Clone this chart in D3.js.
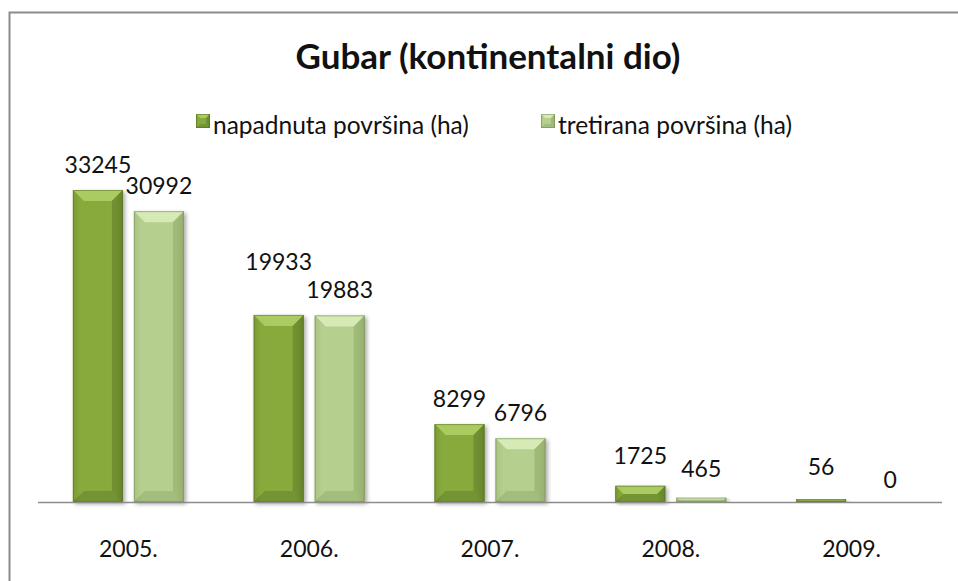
<!DOCTYPE html>
<html>
<head>
<meta charset="utf-8">
<script src="https://cdn.jsdelivr.net/npm/d3@7"></script>
<style>
  body { margin: 0; background: #fff; }
  text { font-family: Lato, "Open Sans", sans-serif; fill: #111; }
</style>
</head>
<body>
<div class="chart"></div>
<script>
var years = ["2005.", "2006.", "2007.", "2008.", "2009."];
var seriesNames = ["napadnuta površina (ha)", "tretirana površina (ha)"];
var napadnuta = [33245, 19933, 8299, 1725, 56];
var tretirana = [30992, 19883, 6796, 465, 0];

var width = 958, height = 581;

var svg = d3.select(".chart").append("svg")
    .attr("width", width)
    .attr("height", height);

// outer frame (only left and top visible)
svg.append("path")
    .attr("d", "M9.5," + height + "V12.5H" + width)
    .attr("fill", "none")
    .attr("stroke", "#8c8c8c")
    .attr("stroke-width", 2);

var x = d3.scaleBand().domain(years).range([38, 942]);
var y = d3.scaleLinear().domain([0, 35000]).range([502, 502 - 35000 * 312 / 33245]);

var palettes = [
  { main: "#88aa3c", light: "#abcb62", dark: "#66852c", edge: "#4f6a1f" },
  { main: "#b5cf8e", light: "#d6eab5", dark: "#97b06f", edge: "#6f8650" }
];

var defs = svg.append("defs");
palettes.forEach(function(p, i) {
  var g = defs.append("linearGradient").attr("id", "grad" + i)
      .attr("x1", 0).attr("x2", 1).attr("y1", 0).attr("y2", 0);
  g.append("stop").attr("offset", "0%").attr("stop-color", p.dark);
  g.append("stop").attr("offset", "15%").attr("stop-color", p.main);
  g.append("stop").attr("offset", "85%").attr("stop-color", p.main);
  g.append("stop").attr("offset", "100%").attr("stop-color", p.dark);
});
var sh = defs.append("filter").attr("id", "shadow")
    .attr("x", "-20%").attr("y", "-20%").attr("width", "140%").attr("height", "140%");
sh.append("feGaussianBlur").attr("in", "SourceAlpha").attr("stdDeviation", 2);
sh.append("feOffset").attr("dx", 2).attr("dy", 2).attr("result", "b");
sh.append("feComponentTransfer").append("feFuncA").attr("type", "linear").attr("slope", 0.35);
var mrg = sh.append("feMerge");
mrg.append("feMergeNode");
mrg.append("feMergeNode").attr("in", "SourceGraphic");

// title
svg.append("text")
    .attr("x", 488).attr("y", 69)
    .attr("text-anchor", "middle")
    .style("font-size", "35px")
    .style("font-weight", "bold")
    .text("Gubar (kontinentalni dio)");

// legend
var legendX = [196, 541];
seriesNames.forEach(function(name, i) {
  var lg = svg.append("g").attr("transform", "translate(" + legendX[i] + ",114)");
  drawBevelBar(lg, 0, 0, 14, 14, palettes[i], 4, false);
  lg.append("text").attr("x", 17).attr("y", 20)
      .style("font-size", "24.5px")
      .text(name);
});

var barW = 50, gap = 11;

function drawBevelBar(g, bx, by, w, h, p, bev, shadow) {
  if (h <= 0) return;
  var b = Math.min(bev, h / 2, w / 2);
  var bar = g.append("g");
  if (shadow) bar.attr("filter", "url(#shadow)");
  bar.append("rect").attr("x", bx).attr("y", by).attr("width", w).attr("height", h)
      .attr("fill", "url(#grad" + palettes.indexOf(p) + ")");
  // top bevel
  bar.append("path")
      .attr("d", "M" + bx + "," + by + "H" + (bx + w) + "L" + (bx + w - b) + "," + (by + b) + "H" + (bx + b) + "Z")
      .attr("fill", p.light);
  // left bevel
  bar.append("path")
      .attr("d", "M" + bx + "," + by + "L" + (bx + b) + "," + (by + b) + "V" + (by + h - b) + "L" + bx + "," + (by + h) + "Z")
      .attr("fill", p.main).attr("opacity", 0.6);
  // right bevel
  bar.append("path")
      .attr("d", "M" + (bx + w) + "," + by + "L" + (bx + w - b) + "," + (by + b) + "V" + (by + h - b) + "L" + (bx + w) + "," + (by + h) + "Z")
      .attr("fill", p.dark).attr("opacity", 0.7);
  // bottom bevel
  bar.append("path")
      .attr("d", "M" + bx + "," + (by + h) + "H" + (bx + w) + "L" + (bx + w - b) + "," + (by + h - b) + "H" + (bx + b) + "Z")
      .attr("fill", p.dark).attr("opacity", 0.6);
  bar.append("rect").attr("x", bx + 0.5).attr("y", by + 0.5).attr("width", w - 1).attr("height", h - 1)
      .attr("fill", "none").attr("stroke", p.edge).attr("stroke-opacity", 0.5);
}

var series = [napadnuta, tretirana];
var plot = svg.append("g");

series.forEach(function(vals, s) {
  vals.forEach(function(v, i) {
    var cx = x(years[i]) + x.bandwidth() / 2;
    var bx = s === 0 ? cx - gap / 2 - barW : cx + gap / 2;
    var h = y(0) - y(v);
    if (v > 0 && h < 3) h = 3;
    drawBevelBar(plot, bx, y(0) - h, barW, h, palettes[s], 11, true);
  });
});

// axis line
svg.append("line")
    .attr("x1", 38).attr("x2", 942)
    .attr("y1", y(0) + 0.5).attr("y2", y(0) + 0.5)
    .attr("stroke", "#8c8c8c").attr("stroke-width", 1.5);

// category labels
svg.selectAll(".xlab").data(years).enter().append("text")
    .attr("class", "xlab")
    .attr("x", function(d) { return x(d) + x.bandwidth() / 2; })
    .attr("y", 557)
    .attr("text-anchor", "middle")
    .style("font-size", "23px")
    .text(function(d) { return d; });

// value labels (Excel nudges the 2006 label up to avoid overlap)
var labelNudge = [[0, -28, 0, -5, -9], [0, 0, 0, -4, 3]];
series.forEach(function(vals, s) {
  vals.forEach(function(v, i) {
    var cx = x(years[i]) + x.bandwidth() / 2;
    var lx = s === 0 ? cx - gap / 2 - barW / 2 : cx + gap / 2 + barW / 2;
    if (v === 0) lx += 8;
    svg.append("text")
        .attr("x", lx)
        .attr("y", y(v) - 17 + labelNudge[s][i])
        .attr("text-anchor", "middle")
        .style("font-size", "23px")
        .text(v);
  });
});
</script>
</body>
</html>
